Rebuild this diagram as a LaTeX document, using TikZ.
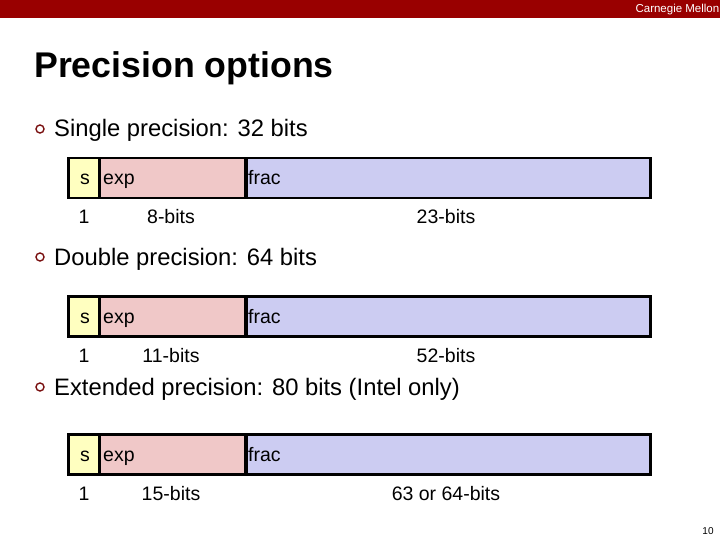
\documentclass[tikz,border=0pt]{standalone}
\usepackage{fontspec}
\setmainfont{Liberation Sans}
\definecolor{cmured}{HTML}{990000}
\definecolor{sfill}{HTML}{FFFFC0}
\definecolor{efill}{HTML}{F0C8C8}
\definecolor{ffill}{HTML}{CCCCF2}
\definecolor{bulletred}{HTML}{7A1010}
\begin{document}
\begin{tikzpicture}[x=1pt,y=-1pt,
  field/.style={draw=black,line width=2.5pt,inner sep=0pt,anchor=north west,minimum height=40pt},
  sfield/.style={field,fill=sfill,minimum width=31pt},
  efield/.style={field,fill=efill,minimum width=146pt},
  ffield/.style={field,fill=ffill,minimum width=404pt},
  ftext/.style={anchor=base west,inner sep=0pt,font=\fontsize{19.5}{22}\selectfont},
  lbl/.style={anchor=base,inner sep=0pt,font=\fontsize{19.5}{22}\selectfont},
  btext/.style={anchor=base west,inner sep=0pt,font=\fontsize{23.8}{28}\selectfont},
  bul/.style={circle,draw=bulletred,line width=1.4pt,inner sep=0pt,minimum size=8pt}]
\useasboundingbox (0,0) rectangle (720,540);
\fill[white] (0,0) rectangle (720,540);
% top bar
\fill[cmured] (0,0) rectangle (720,18);
\node[anchor=base east,inner sep=0pt,text=white,font=\fontsize{11.5}{13}\selectfont] (cmu) at (719.5,13) {Carnegie Mellon};
% title
\node[anchor=base west,inner sep=0pt,font=\fontsize{35.7}{40}\bfseries\selectfont] (title) at (34,78) {Precision options};
% page number
\node[anchor=base,inner sep=0pt,font=\fontsize{10}{12}\selectfont] (page) at (708,534) {10};

% ---------- Single ----------
\node[bul] (b1) at (40,129) {};
\node[btext] (t1) at (54,137) {Single precision: 32 bits};
\node[ffield] (f1) at (245,157) {};
\node[efield] (e1) at (98,157) {};
\node[sfield] (s1) at (67,157) {};
\node[ftext] at (80,185) {s};
\node[ftext] at (103,185) {exp};
\node[ftext] at (248,185) {frac};
\node[lbl] (l1a) at (84,224) {1};
\node[lbl] (l1b) at (171,224) {8-bits};
\node[lbl] (l1c) at (446,224) {23-bits};

% ---------- Double ----------
\node[bul] (b2) at (40,257) {};
\node[btext] (t2) at (54,265) {Double precision: 64 bits};
\node[ffield] (f2) at (245,295) {};
\node[efield] (e2) at (98,295) {};
\node[sfield] (s2) at (67,295) {};
\node[ftext] at (80,323) {s};
\node[ftext] at (103,323) {exp};
\node[ftext] at (248,323) {frac};
\node[lbl] (l2a) at (84,362) {1};
\node[lbl] (l2b) at (171,362) {11-bits};
\node[lbl] (l2c) at (446,362) {52-bits};

% ---------- Extended ----------
\node[bul] (b3) at (40,387) {};
\node[btext] (t3) at (54,395) {Extended precision: 80 bits (Intel only)};
\node[ffield] (f3) at (245,433) {};
\node[efield] (e3) at (98,433) {};
\node[sfield] (s3) at (67,433) {};
\node[ftext] at (80,461) {s};
\node[ftext] at (103,461) {exp};
\node[ftext] at (248,461) {frac};
\node[lbl] (l3a) at (84,500) {1};
\node[lbl] (l3b) at (171,500) {15-bits};
\node[lbl] (l3c) at (446,500) {63 or 64-bits};
\end{tikzpicture}
\end{document}
